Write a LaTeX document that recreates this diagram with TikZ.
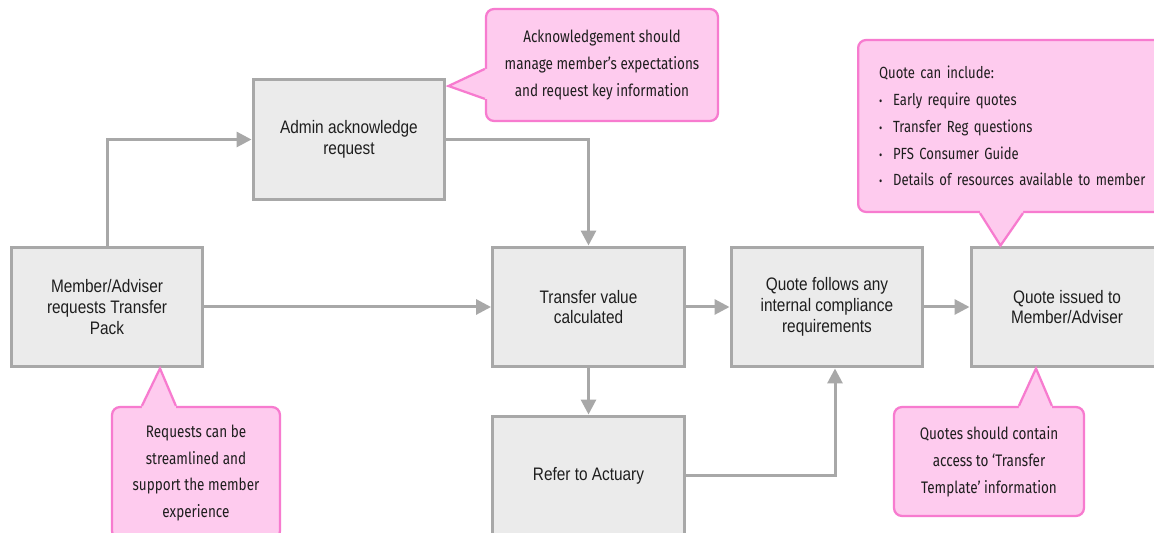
\documentclass[tikz,border=0pt]{standalone}
\usepackage{fontspec}
\newfontfamily\boxfont[FakeStretch=0.85]{Liberation Sans}
\newfontfamily\notefont[FakeStretch=0.81]{Fira Sans}
\usetikzlibrary{arrows.meta,calc}
\definecolor{boxfill}{HTML}{EBEBEB}
\definecolor{boxline}{HTML}{A8A8A8}
\definecolor{notefill}{HTML}{FECBEE}
\definecolor{noteline}{HTML}{F77BCF}
\definecolor{textdark}{HTML}{1E1E1E}
\tikzset{
	stepbox/.style={draw=boxline, fill=boxfill, line width=0.06cm, minimum width=3.84cm, minimum height=2.4cm,
		align=center, text=textdark, font=\boxfont\fontsize{10.3}{11.9}\selectfont},
	notebox/.style={draw=noteline, fill=notefill, line width=0.045cm, rounded corners=0.16cm, inner sep=0pt,
		align=center, text=textdark, font=\notefont\fontsize{9.5}{15.3}\selectfont},
	notetail/.style={draw=noteline, line width=0.045cm, line join=miter},
	flow/.style={draw=boxline, line width=0.06cm, -{Triangle[width=0.3cm,length=0.3cm]}},
}
\begin{document}
\begin{tikzpicture}[x=0.02cm, y=-0.02cm]
	\path[use as bounding box, fill=white] (0,0) rectangle (1154,533);
	
	% process steps
	\node[stepbox] (memreq) at (107,307) {Member/Adviser\\requests Transfer\\Pack};
	\node[stepbox] (ack) at (349,139.5) {Admin acknowledge\\request};
	\node[stepbox] (calc) at (588.5,307) {Transfer value\\calculated};
	\node[stepbox] (comply) at (827,307) {Quote follows any\\internal compliance\\requirements};
	\node[stepbox] (actuary) at (588.5,476) {Refer to Actuary};
	\node[stepbox] (issued) at (1067,307) {Quote issued to\\Member/Adviser};
	
	% connectors
	\draw[flow] (memreq.north) |- (ack.west);
	\draw[flow] (ack.east) -| (calc.north);
	\draw[flow] (memreq.east) -- (calc.west);
	\draw[flow] (calc.east) -- (comply.west);
	\draw[flow] (comply.east) -- (issued.west);
	\draw[flow] (calc.south) -- (actuary.north);
	\draw[flow] (actuary.east) -| ($(comply.south)+(8,0)$);
	
	% notes
	\node[notebox, minimum width=3.36cm, minimum height=2.64cm] (reqnote) at (196,473)
		{Requests can be\\streamlined and\\support the member\\experience};
	\node[notebox, minimum width=4.64cm, minimum height=2.24cm] (acknote) at (602,65)
		{Acknowledgement should\\manage member’s expectations\\and request key information};
	\node[notebox, minimum height=3.44cm, inner xsep=0.42cm, text width=5.8cm, align=left, anchor=west,
		font=\notefont\fontsize{9.2}{15.3}\selectfont] (quotenote) at (857,126)
		{Quote can include:\\
		\makebox[0.28cm][l]{\scriptsize\textbullet}Early require quotes\\
		\makebox[0.28cm][l]{\scriptsize\textbullet}Transfer Reg questions\\
		\makebox[0.28cm][l]{\scriptsize\textbullet}PFS Consumer Guide\\
		\makebox[0.28cm][l]{\scriptsize\textbullet}Details of resources available to member};
	\node[notebox, minimum width=3.8cm, minimum height=2.18cm] (tmplnote) at (989,461.5)
		{Quotes should contain\\access to ‘Transfer\\Template’ information};
	
	% note tails
	\fill[notefill] ($(reqnote.north west)+(31,3)$) -- ($(reqnote.north west)+(31,0)$) -- ($(memreq.south)+(53,0)$)
		-- ($(reqnote.north west)+(65,0)$) -- ($(reqnote.north west)+(65,3)$) -- cycle;
	\draw[notetail] ($(reqnote.north west)+(31,0)$) -- ($(memreq.south)+(53,0)$) -- ($(reqnote.north west)+(65,0)$);
	
	\fill[notefill] ($(acknote.north west)+(3,61)$) -- ($(acknote.north west)+(0,61)$) -- ($(ack.north east)+(2,8)$)
		-- ($(acknote.north west)+(0,91)$) -- ($(acknote.north west)+(3,91)$) -- cycle;
	\draw[notetail] ($(acknote.north west)+(0,61)$) -- ($(ack.north east)+(2,8)$) -- ($(acknote.north west)+(0,91)$);
	
	\fill[notefill] ($(quotenote.south west)+(123,-3)$) -- ($(quotenote.south west)+(123,0)$) -- ($(issued.north west)+(31,0)$)
		-- ($(quotenote.south west)+(166,0)$) -- ($(quotenote.south west)+(166,-3)$) -- cycle;
	\draw[notetail] ($(quotenote.south west)+(123,0)$) -- ($(issued.north west)+(31,0)$) -- ($(quotenote.south west)+(166,0)$);
	
	\fill[notefill] ($(tmplnote.north west)+(126,3)$) -- ($(tmplnote.north west)+(126,0)$) -- ($(issued.south)+(-31,0)$)
		-- ($(tmplnote.north west)+(159,0)$) -- ($(tmplnote.north west)+(159,3)$) -- cycle;
	\draw[notetail] ($(tmplnote.north west)+(126,0)$) -- ($(issued.south)+(-31,0)$) -- ($(tmplnote.north west)+(159,0)$);
\end{tikzpicture}
\end{document}
